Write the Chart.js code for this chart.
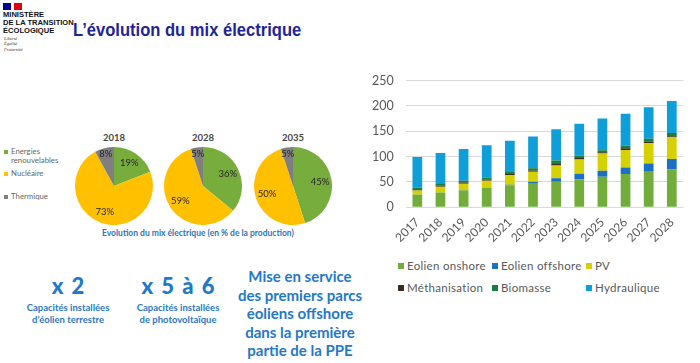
<!DOCTYPE html>
<html lang="fr">
<head>
<meta charset="utf-8">
<script src="https://cdn.jsdelivr.net/npm/chart.js@4.4.1/dist/chart.umd.min.js"></script>
<style>
  body { margin: 0; width: 700px; height: 363px; overflow: hidden; background: #fff; font-family: Lato, "Open Sans", sans-serif; }
  .abs { position: absolute; }
  .logo-txt { font-family: "Liberation Sans", Arial, sans-serif; font-weight: bold; font-size: 7px; line-height: 8px; color: #111; left: 3px; top: 11px; white-space: nowrap; transform-origin: left top; transform: scaleX(1.08); }
  .devise { font-family: "Liberation Serif", serif; font-style: italic; font-size: 4.5px; line-height: 5.3px; color: #333; left: 4px; top: 36px; }
  .titre { font-family: "Liberation Sans", Arial, sans-serif; font-weight: bold; font-size: 18px; color: #1f2598; left: 73px; top: 20px; white-space: nowrap; transform-origin: left top; transform: scaleX(0.92); }
  .pie-box { width: 78px; height: 78px; }
  .pie-titre { font-weight: bold; font-size: 9.5px; color: #444; width: 60px; text-align: center; }
  .leg-pie { font-size: 7.8px; color: #666; line-height: 9px; }
  .leg-pie i { position: absolute; left: -7px; top: 2.5px; width: 4px; height: 4px; }
  .caption { font-weight: bold; font-size: 8.5px; color: #2e75b6; left: 102px; top: 228px; white-space: nowrap; }
  .big { font-weight: 900; font-size: 22px; color: #1f78c8; text-align: center; word-spacing: 3px; }
  .small { font-weight: bold; font-size: 9.5px; line-height: 12px; color: #2a78c2; text-align: center; }
  .mise { font-weight: bold; font-size: 15px; line-height: 18.5px; color: #1f78c8; text-align: center; left: 225px; top: 267px; width: 150px; }
  .leg-bar { font-size: 11.5px; color: #595959; white-space: nowrap; letter-spacing: 0.3px; }
  .leg-bar i { display: inline-block; width: 6px; height: 6px; margin-right: 3px; vertical-align: 1px; }
</style>
</head>
<body>

<!-- bloc marque -->
<div class="abs" style="left:3px;top:3px;width:8px;height:7px;background:#000091"></div>
<div class="abs" style="left:14px;top:3px;width:8px;height:7px;background:#e1000f"></div>
<div class="abs logo-txt">MINISTÈRE<br>DE LA TRANSITION<br>ÉCOLOGIQUE</div>
<div class="abs devise">Liberté<br>Égalité<br>Fraternité</div>
<div class="abs titre">L’évolution du mix électrique</div>

<!-- camemberts -->
<div class="abs leg-pie" style="left:11px;top:147px"><i style="background:#77ad3d"></i>Energies<br>renouvelables</div>
<div class="abs leg-pie" style="left:11px;top:169px"><i style="background:#ffc000"></i>Nucléaire</div>
<div class="abs leg-pie" style="left:11px;top:192px"><i style="background:#7f7f7f"></i>Thermique</div>

<div class="abs pie-titre" style="left:84px;top:132px">2018</div>
<div class="abs pie-titre" style="left:173px;top:132px">2028</div>
<div class="abs pie-titre" style="left:263px;top:132px">2035</div>
<div class="abs pie-box" style="left:75px;top:147px"><canvas id="pie0"></canvas></div>
<div class="abs pie-box" style="left:164px;top:147px"><canvas id="pie1"></canvas></div>
<div class="abs pie-box" style="left:254px;top:147px"><canvas id="pie2"></canvas></div>
<div class="abs caption">Evolution du mix électrique (en % de la production)</div>

<!-- chiffres clés -->
<div class="abs big" style="left:18px;top:272px;width:100px">x 2</div>
<div class="abs small" style="left:13px;top:302px;width:110px">Capacités installées<br>d’éolien terrestre</div>
<div class="abs big" style="left:118px;top:272px;width:120px">x 5 à 6</div>
<div class="abs small" style="left:123px;top:302px;width:110px">Capacités installées<br>de photovoltaïque</div>
<div class="abs mise">Mise en service<br>des premiers parcs<br>éoliens offshore<br>dans la première<br>partie de la PPE</div>

<!-- histogramme -->
<div class="abs" style="left:360px;top:60.5px;width:330px;height:192px"><canvas id="barChart"></canvas></div>

<script>
// Mix électrique (% de la production)
const pieYears = ['2018', '2028', '2035'];
const pieLabels = ['Energies renouvelables', 'Nucléaire', 'Thermique'];
const pieColors = ['#77ad3d', '#ffc000', '#7f7f7f'];
const mix2018 = [19, 73, 8];
const mix2028 = [36, 59, 5];
const mix2035 = [45, 50, 5];

// Capacités installées (GW)
const years = ['2017', '2018', '2019', '2020', '2021', '2022', '2023', '2024', '2025', '2026', '2027', '2028'];
const eolienOnshore  = [25, 29, 33.5, 38.5, 43, 46, 50, 55, 60, 65.5, 70, 75];
const eolienOffshore = [0, 0, 0, 0, 1, 4, 7, 11, 12, 12.5, 16, 20];
const pv             = [8, 11, 12.5, 13.5, 19, 20, 25, 28, 34, 35, 40, 43];
const methanisation  = [2.5, 2.5, 2.5, 2.5, 2.5, 2.5, 3, 3, 2.5, 3, 3.5, 2];
const biomasse       = [3, 3, 3.5, 4, 4, 4.5, 7, 5, 4, 5.5, 5.5, 6.5];
const hydraulique    = [60.5, 61.5, 63, 63.5, 61.5, 62.5, 62, 62.5, 62.5, 63, 62, 63];
const yTicks = [0, 50, 100, 150, 200, 250];

// étiquettes % dans les parts
const pctLabels = {
    id: 'pctLabels',
    afterDatasetsDraw(chart) {
        const ctx = chart.ctx;
        const meta = chart.getDatasetMeta(0);
        const values = chart.data.datasets[0].data;
        ctx.save();
        ctx.font = '9.5px Lato';
        ctx.fillStyle = '#262626';
        ctx.textAlign = 'center';
        ctx.textBaseline = 'middle';
        meta.data.forEach((arc, i) => {
            const p = arc.getProps(['x', 'y', 'startAngle', 'endAngle', 'outerRadius'], true);
            const mid = (p.startAngle + p.endAngle) / 2;
            const r = p.outerRadius * (values[i] < 10 ? 0.84 : 0.7);
            ctx.fillText(values[i] + '%', p.x + Math.cos(mid) * r, p.y + Math.sin(mid) * r);
        });
        ctx.restore();
    }
};

[mix2018, mix2028, mix2035].forEach((mix, idx) => {
    new Chart(document.getElementById('pie' + idx), {
        type: 'pie',
        data: {
            labels: pieLabels,
            datasets: [{ data: mix, backgroundColor: pieColors, borderWidth: 0 }]
        },
        options: {
            responsive: true, maintainAspectRatio: false, animation: false,
            layout: { padding: 0 },
            plugins: { legend: { display: false }, tooltip: { enabled: false } }
        },
        plugins: [pctLabels]
    });
});

const barSeries = [
    { label: 'Eolien onshore', data: eolienOnshore, color: '#72ad3c' },
    { label: 'Eolien offshore', data: eolienOffshore, color: '#1a70c4' },
    { label: 'PV', data: pv, color: '#d6d100' },
    { label: 'Méthanisation', data: methanisation, color: '#3d2b1f' },
    { label: 'Biomasse', data: biomasse, color: '#17803d' },
    { label: 'Hydraulique', data: hydraulique, color: '#0f9fd8' }
];

new Chart(document.getElementById('barChart'), {
    type: 'bar',
    data: {
        labels: years,
        datasets: barSeries.map(s => ({
            label: s.label, data: s.data, backgroundColor: s.color,
            barPercentage: 0.42, categoryPercentage: 1
        }))
    },
    options: {
        responsive: true, maintainAspectRatio: false, animation: false,
        layout: { padding: { top: 3, right: 0 } },
        plugins: { legend: { display: false }, tooltip: { enabled: false } },
        scales: {
            x: {
                stacked: true,
                grid: { display: false, drawTicks: false },
                border: { display: false },
                ticks: { color: '#595959', font: { family: 'Lato', size: 12 }, minRotation: 45, maxRotation: 45, padding: 8, autoSkip: false }
            },
            y: {
                stacked: true,
                min: 0, max: 250,
                afterBuildTicks(scale) { scale.ticks = yTicks.map(v => ({ value: v })); },
                grid: { color: '#d9d9d9', drawTicks: false },
                border: { display: false },
                ticks: { color: '#595959', font: { family: 'Lato', size: 12.5 }, padding: 12 }
            }
        }
    }
});

// légende en deux lignes, trois colonnes
const colX = [398, 492, 586];
const rowY = [259, 281];
barSeries.forEach((s, i) => {
    const d = document.createElement('div');
    d.className = 'abs leg-bar';
    d.style.left = colX[i % 3] + 'px';
    d.style.top = rowY[Math.floor(i / 3)] + 'px';
    d.innerHTML = `<i style="background:${s.color}"></i>${s.label}`;
    document.body.appendChild(d);
});
</script>
</body>
</html>
